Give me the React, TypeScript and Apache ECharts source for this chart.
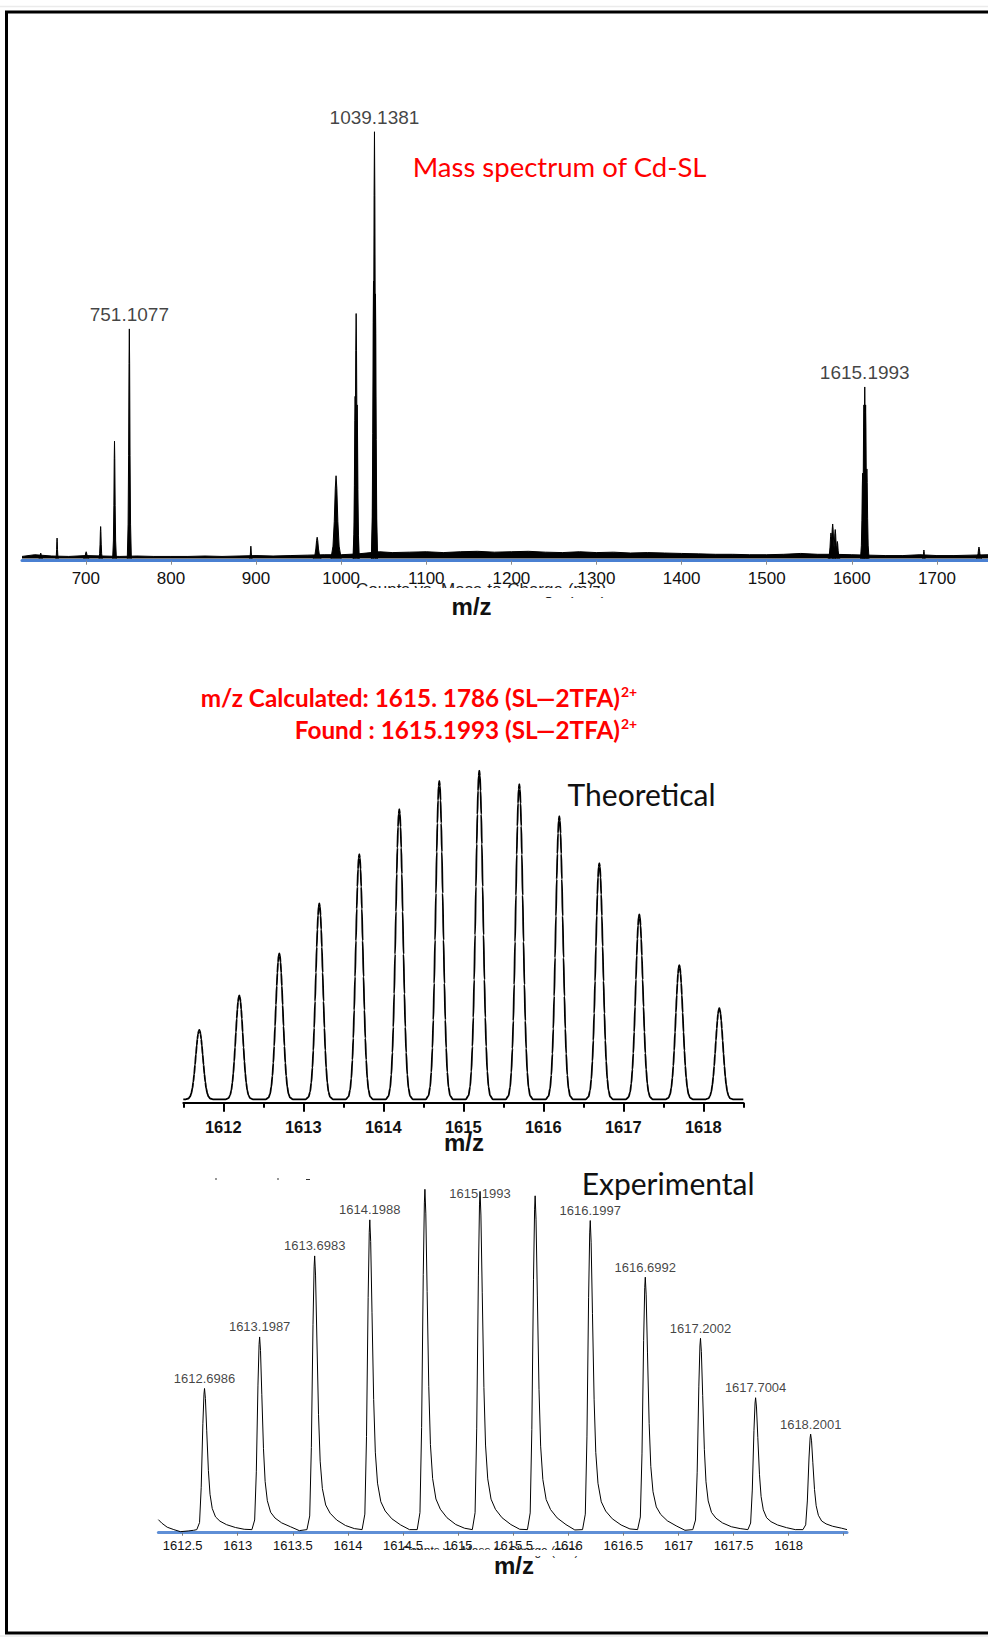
import React, { useEffect, useRef } from 'react';
import * as echarts from 'echarts';

// ---------------- Top: full-range spectrum ----------------
const topTicks = [700, 800, 900, 1000, 1100, 1200, 1300, 1400, 1500, 1600, 1700];
const topPeakMz = [647, 666.2, 700.4, 717.4, 733.7, 751.1077, 893.9, 971.8, 994.0, 1016.4, 1017.6, 1018.8, 1038.0, 1039.1381, 1040.3, 1575.5, 1577.5, 1580.5, 1583.0, 1612.7, 1614.2, 1615.1993, 1616.2, 1617.7, 1684.7, 1749.4];
const topPeakIntensity = [1.3, 4.8, 1.6, 7.5, 27.5, 53.8, 2.9, 5.0, 19.4, 38, 57.4, 36, 65, 100, 62, 6.0, 8.1, 6.8, 4.0, 20, 36, 40.2, 36, 21, 2.0, 2.7];
const topPeakHalfWidth = [2, 1.5, 3, 2, 2.2, 2.4, 1.5, 4.5, 6, 2.5, 3, 2.5, 2.5, 3, 2.5, 3.2, 3.5, 3.2, 2.8, 2.5, 2.5, 2.5, 2.5, 2.5, 1.5, 3];
const topLabelMz = [751.1077, 1039.1381, 1615.1993];
const topLabelIntensity = [53.8, 100, 40.2];
const topLabelText = ['751.1077', '1039.1381', '1615.1993'];
const topNoiseMz = [625, 640, 660, 680, 700, 720, 740, 760, 780, 800, 820, 840, 860, 880, 900, 920, 940, 960, 980, 1000, 1020, 1045, 1060, 1080, 1100, 1120, 1140, 1160, 1180, 1200, 1220, 1240, 1260, 1280, 1300, 1320, 1340, 1360, 1380, 1400, 1420, 1440, 1460, 1480, 1500, 1520, 1540, 1560, 1580, 1600, 1620, 1640, 1660, 1680, 1700, 1720, 1740, 1760];
const topNoiseLevel = [0.5, 0.9, 0.6, 0.5, 0.7, 0.6, 0.5, 0.6, 0.5, 0.5, 0.5, 0.6, 0.5, 0.6, 0.7, 0.6, 0.7, 0.8, 0.9, 0.9, 1.1, 1.6, 1.4, 1.5, 1.6, 1.4, 1.6, 1.7, 1.5, 1.6, 1.7, 1.5, 1.4, 1.6, 1.4, 1.5, 1.3, 1.4, 1.3, 1.2, 1.1, 1.0, 1.0, 0.9, 0.9, 1.0, 1.2, 1.0, 1.0, 0.9, 0.8, 0.7, 0.7, 0.9, 0.7, 0.7, 0.8, 0.9];
const topMin = 625;
const topMax = 1760;

// ---------------- Theoretical isotope pattern ----------------
const theoMajorTicks = [1612, 1613, 1614, 1615, 1616, 1617, 1618];
const theoMinorTicks = [1611.5, 1612.5, 1613.5, 1614.5, 1615.5, 1616.5, 1617.5, 1618.5];
const theoPeakMz = [1611.7, 1612.2, 1612.7, 1613.2, 1613.7, 1614.2, 1614.7, 1615.2, 1615.7, 1616.2, 1616.7, 1617.2, 1617.7, 1618.2];
const theoPeakIntensity = [21.1, 31.6, 44.4, 59.6, 74.6, 88.3, 96.9, 100, 95.9, 86.2, 71.9, 56.3, 40.8, 27.7];
const theoMin = 1611.5;
const theoMax = 1618.5;

// ---------------- Experimental isotope pattern ----------------
const expTicks = [1612.5, 1613, 1613.5, 1614, 1614.5, 1615, 1615.5, 1616, 1616.5, 1617, 1617.5, 1618, 1618.5];
const expTickLabels = [1612.5, 1613, 1613.5, 1614, 1614.5, 1615, 1615.5, 1616, 1616.5, 1617, 1617.5, 1618];
const expPeakMz = [1612.6986, 1613.1987, 1613.6983, 1614.1988, 1614.699, 1615.1993, 1615.6995, 1616.1997, 1616.6992, 1617.2002, 1617.7004, 1618.2001];
const expPeakIntensity = [42.0, 57.0, 80.6, 91.1, 100, 99.4, 98.1, 90.9, 74.4, 56.6, 39.3, 28.7];
const expPeakLabel = ['1612.6986', '1613.1987', '1613.6983', '1614.1988', '', '1615.1993', '', '1616.1997', '1616.6992', '1617.2002', '1617.7004', '1618.2001'];
const expLeadMz = [1612.28, 1612.31, 1612.36, 1612.42, 1612.48, 1612.55, 1612.6];
const expLeadLevel = [3.8, 2.8, 1.6, 0.9, 0.3, 0.5, 0.7];
const expValleyLevel = [1.0, 0.6, 1.2, 0.9, 1.3, 1.0, 0.8, 1.1, 0.7, 1.2, 0.9];
const expBaselineLevel = 0.9;
const expTailLevel = 0.9;
const expMin = 1612.28;
const expMax = 1618.53;

// peak profile templates (offset, relative height)
const TOP_SHAPE: [number, number][] = [[-1, 0], [-0.6, 0.15], [-0.35, 0.45], [-0.15, 0.85], [0, 1], [0.15, 0.85], [0.35, 0.45], [0.6, 0.15], [1, 0]];
const GAUSS_HALF: [number, number][] = [[0, 1], [0.008, 0.984], [0.016, 0.939], [0.024, 0.867], [0.032, 0.777], [0.042, 0.647], [0.053, 0.5], [0.064, 0.364], [0.075, 0.249], [0.086, 0.161], [0.1, 0.085], [0.115, 0.038], [0.135, 0.011], [0.17, 0]];
const EXP_SHAPE: [number, number][] = [[-0.07, 0], [-0.045, 0.05], [-0.03, 0.3], [-0.015, 0.75], [-0.005, 0.96], [0, 1], [0.008, 0.93], [0.02, 0.7], [0.035, 0.42], [0.05, 0.25], [0.07, 0.15], [0.1, 0.09], [0.14, 0.06], [0.2, 0.035], [0.28, 0.015]];

function buildTopPeaks(): (number | null)[][] {
  const d: (number | null)[][] = [];
  topPeakMz.forEach((mz, i) => {
    TOP_SHAPE.forEach(([dx, r]) => d.push([mz + dx * topPeakHalfWidth[i], r * topPeakIntensity[i]]));
    d.push([mz + topPeakHalfWidth[i], null]);
  });
  return d;
}

function buildTheo(): number[][] {
  const d: number[][] = [[theoMin, 0]];
  const left = GAUSS_HALF.slice(1).reverse().map(([dx, r]) => [-dx, r] as [number, number]);
  const shape = [...left, ...GAUSS_HALF];
  theoPeakMz.forEach((mz, i) => {
    shape.forEach(([dx, r]) => d.push([mz + dx, r * theoPeakIntensity[i]]));
  });
  d.push([theoMax, 0]);
  return d;
}

function buildExp(): number[][] {
  const d: number[][] = [];
  expLeadMz.forEach((mz, i) => d.push([mz, expLeadLevel[i]]));
  expPeakMz.forEach((mz, i) => {
    EXP_SHAPE.forEach(([dx, r]) => d.push([mz + dx, expBaselineLevel + r * (expPeakIntensity[i] - expBaselineLevel)]));
    if (i < expValleyLevel.length) d.push([mz + 0.36, expValleyLevel[i]]);
  });
  d.push([expMax, expTailLevel]);
  return d;
}

const SANS = '"Liberation Sans", Arial, sans-serif';
const CAL = 'Lato, "Noto Sans", sans-serif';

function txt(x: number, y: number, text: string, font: string, fill: string, align = 'left', valign = 'middle', z = 50) {
  return {
    type: 'text', x, y, z,
    style: { text, font, fill, align, verticalAlign: valign, textAlign: align, textVerticalAlign: valign },
  };
}

export default function App() {
  const ref = useRef<HTMLDivElement>(null);
  useEffect(() => {
    document.body.style.margin = '0';
    document.body.style.overflow = 'hidden';
    const chart = echarts.init(ref.current!, undefined, { renderer: 'svg' });
    const fmt = (v: number) => String(v);
    const option: any = {
      animation: false,
      backgroundColor: '#ffffff',
      textStyle: { fontFamily: SANS },
      grid: [
        { left: 22, top: 131.7, width: 966, height: 429, containLabel: false, outerBoundsMode: 'none' },
        { left: 183.3, top: 770.7, width: 560, height: 332, containLabel: false, outerBoundsMode: 'none' },
        { left: 158.4, top: 1189.3, width: 688.6, height: 343.4, containLabel: false, outerBoundsMode: 'none' },
      ],
      xAxis: [
        {
          gridIndex: 0, type: 'value', min: topMin, max: topMax, position: 'bottom',
          axisLine: { show: true, onZero: false, lineStyle: { color: '#4a80d2', width: 3 } },
          axisTick: { show: true, customValues: topTicks, length: 4, lineStyle: { color: '#8a8a8a', width: 1 } },
          axisLabel: { show: true, customValues: topTicks, formatter: fmt, fontSize: 17, color: '#111', margin: 9, fontFamily: SANS },
          splitLine: { show: false },
        },
        {
          gridIndex: 1, type: 'value', min: theoMin, max: theoMax, position: 'bottom',
          axisLine: { show: true, onZero: false, lineStyle: { color: '#000', width: 2 } },
          axisTick: { show: true, customValues: theoMajorTicks, length: 9, lineStyle: { color: '#000', width: 2 } },
          axisLabel: { show: true, customValues: theoMajorTicks, formatter: fmt, fontSize: 16.5, fontWeight: 'bold', color: '#111', margin: 16, fontFamily: SANS },
          splitLine: { show: false },
        },
        {
          gridIndex: 1, type: 'value', min: theoMin, max: theoMax, position: 'bottom',
          axisLine: { show: false, onZero: false },
          axisTick: { show: true, customValues: theoMinorTicks, length: 5, lineStyle: { color: '#000', width: 2 } },
          axisLabel: { show: false },
          splitLine: { show: false },
        },
        {
          gridIndex: 2, type: 'value', min: expMin, max: expMax, position: 'bottom',
          axisLine: { show: true, onZero: false, lineStyle: { color: '#5f8fd6', width: 3 } },
          axisTick: { show: true, customValues: expTicks, length: 3, lineStyle: { color: '#777', width: 1 } },
          axisLabel: { show: true, customValues: expTickLabels, formatter: fmt, fontSize: 13, color: '#111', margin: 6, fontFamily: SANS },
          splitLine: { show: false },
        },
      ],
      yAxis: [
        { gridIndex: 0, type: 'value', min: -0.5, max: 100, show: false },
        { gridIndex: 1, type: 'value', min: -1.04, max: 100, show: false },
        { gridIndex: 2, type: 'value', min: 0, max: 100, show: false },
      ],
      series: [
        {
          type: 'line', xAxisIndex: 0, yAxisIndex: 0, symbol: 'none', z: 3,
          data: topNoiseMz.map((m, i) => [m, topNoiseLevel[i]]),
          lineStyle: { color: '#000', width: 1 }, areaStyle: { color: '#000', opacity: 1, origin: 0 },
        },
        {
          type: 'line', xAxisIndex: 0, yAxisIndex: 0, symbol: 'none', z: 4, connectNulls: false,
          data: buildTopPeaks(),
          lineStyle: { color: '#000', width: 1 }, areaStyle: { color: '#000', opacity: 1, origin: 0 },
        },
        {
          type: 'scatter', xAxisIndex: 0, yAxisIndex: 0, symbolSize: 1, z: 5,
          itemStyle: { color: 'rgba(0,0,0,0)' },
          data: topLabelMz.map((m, i) => ({ value: [m, topLabelIntensity[i]], name: topLabelText[i] })),
          label: { show: true, position: 'top', distance: 4, formatter: '{b}', fontSize: 19, color: '#111', fontFamily: SANS },
        },
        {
          type: 'line', xAxisIndex: 1, yAxisIndex: 1, symbol: 'none', z: 3,
          smooth: 0.3, smoothMonotone: 'x',
          data: buildTheo(),
          lineStyle: { color: '#000', width: 1.8 },
        },
        {
          type: 'line', xAxisIndex: 3, yAxisIndex: 2, symbol: 'none', z: 3,
          data: buildExp(),
          lineStyle: { color: '#000', width: 1 },
        },
        {
          type: 'scatter', xAxisIndex: 3, yAxisIndex: 2, symbolSize: 1, z: 5,
          itemStyle: { color: 'rgba(0,0,0,0)' },
          data: expPeakMz
            .map((m, i) => ({ m, i }))
            .filter(({ i }) => expPeakLabel[i] !== '')
            .map(({ m, i }) => ({
              value: [m, expPeakIntensity[i]],
              name: expPeakLabel[i],
              label: expPeakLabel[i] === '1615.1993' ? { position: 'inside', offset: [0, 2] } : undefined,
            })),
          label: { show: true, position: 'top', distance: 3, formatter: '{b}', fontSize: 13, color: '#111', fontFamily: SANS },
        },
      ],
      graphic: {
        elements: [
          { type: 'line', z: 60, shape: { x1: 0, y1: 6.5, x2: 988, y2: 6.5 }, style: { stroke: '#ebebeb', lineWidth: 1.5 } },
          { type: 'rect', z: 60, shape: { x: 0, y: 1635, width: 988, height: 2 }, style: { fill: '#efefef' } },
          { type: 'rect', z: 61, shape: { x: 6.5, y: 12, width: 1100, height: 1621 }, style: { fill: 'rgba(0,0,0,0)', stroke: '#000', lineWidth: 3 } },
          txt(412.7, 166, 'Mass spectrum of Cd-SL', `27.5px ${CAL}`, '#ff0000'),
          // remnants of a hidden axis title
          txt(356, 581, 'Counts vs. Mass-to-Charge (m/z)', `17px ${SANS}`, '#222', 'left', 'top', 10),
          { type: 'rect', z: 11, shape: { x: 340, y: 588, width: 320, height: 9 }, style: { fill: '#fff' } },
          txt(401.7, 1545, 'Counts vs. Mass-to-Charge (m/z)', `12px ${SANS}`, '#222', 'left', 'top', 10),
          { type: 'rect', z: 11, shape: { x: 390, y: 1550, width: 230, height: 6 }, style: { fill: '#fff' } },
          txt(471.6, 606, 'm/z', `bold 24px ${SANS}`, '#111', 'center'),
          txt(464, 1142, 'm/z', `bold 24px ${SANS}`, '#111', 'center'),
          txt(514, 1565, 'm/z', `bold 24px ${SANS}`, '#111', 'center'),
          txt(620, 697, 'm/z Calculated: 1615. 1786 (SL\u20142TFA)', `bold 24.3px ${CAL}`, '#ff0000', 'right'),
          txt(621, 691.5, '2+', `bold 14px ${CAL}`, '#ff0000', 'left'),
          txt(620, 729, 'Found : 1615.1993 (SL\u20142TFA)', `bold 24.3px ${CAL}`, '#ff0000', 'right'),
          txt(621, 723.5, '2+', `bold 14px ${CAL}`, '#ff0000', 'left'),
          txt(567.6, 794, 'Theoretical', `30px ${CAL}`, '#111'),
          txt(581.7, 1183, 'Experimental', `30px ${CAL}`, '#111'),
          { type: 'rect', z: 20, shape: { x: 215, y: 1178.5, width: 2, height: 1 }, style: { fill: '#333' } },
          { type: 'rect', z: 20, shape: { x: 277, y: 1178.5, width: 2, height: 1 }, style: { fill: '#333' } },
          { type: 'rect', z: 20, shape: { x: 306, y: 1179, width: 4, height: 1 }, style: { fill: '#333' } },
        ],
      },
    };
    chart.setOption(option);
    return () => chart.dispose();
  }, []);
  return <div ref={ref} style={{ position: 'absolute', left: 0, top: 0, width: 988, height: 1637, background: '#fff' }} />;
}
